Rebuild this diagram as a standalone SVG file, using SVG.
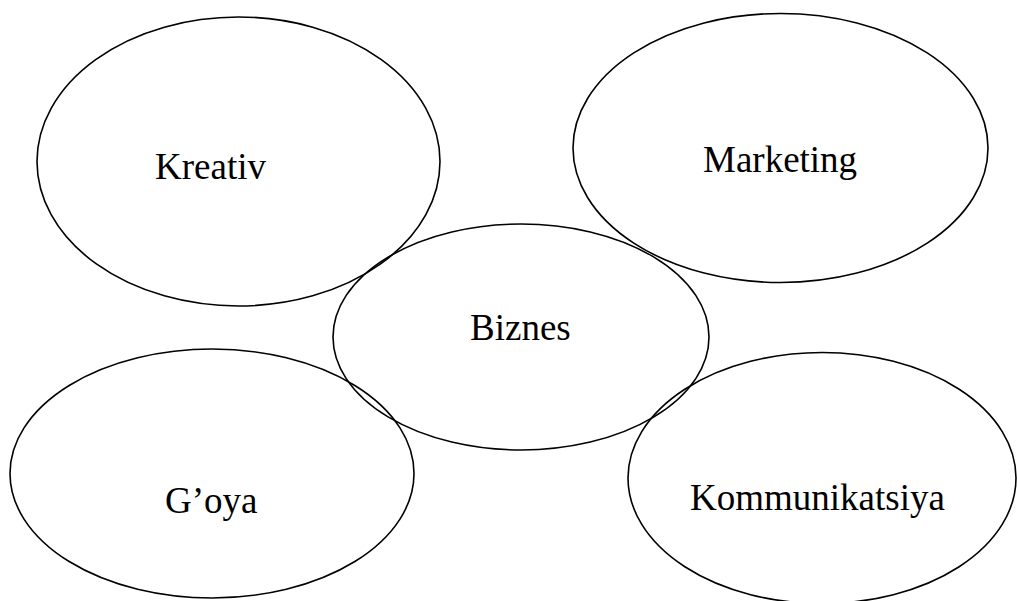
<svg xmlns="http://www.w3.org/2000/svg" width="1017" height="601" viewBox="0 0 1017 601">
  <style>
    .bubble { fill: none; stroke: #000; stroke-width: 1.6; }
    .label { font-family: "Liberation Serif", "Times New Roman", serif; font-size: 37px; fill: #000; }
  </style>
  <rect width="1017" height="601" fill="#fff"/>
  <g id="kreativ">
    <ellipse class="bubble" cx="238.5" cy="161.5" rx="201.5" ry="144.5"/>
    <text class="label" x="155" y="179">Kreativ</text>
  </g>
  <g id="marketing">
    <ellipse class="bubble" cx="780.5" cy="148" rx="207.5" ry="134.5"/>
    <text class="label" x="703" y="172">Marketing</text>
  </g>
  <g id="biznes">
    <ellipse class="bubble" cx="521" cy="337" rx="188" ry="113"/>
    <text class="label" x="470" y="340">Biznes</text>
  </g>
  <g id="goya">
    <ellipse class="bubble" cx="212" cy="473.5" rx="202" ry="124.5"/>
    <text class="label" x="165" y="513">G’oya</text>
  </g>
  <g id="kommunikatsiya">
    <ellipse class="bubble" cx="822" cy="478" rx="194" ry="125.5"/>
    <text class="label" x="690" y="510">Kommunikatsiya</text>
  </g>
  <g id="connectors"/>
</svg>
